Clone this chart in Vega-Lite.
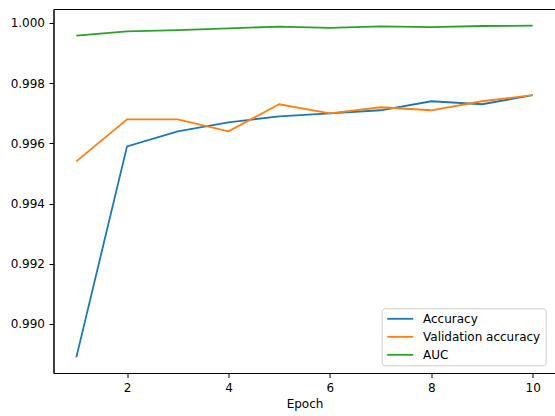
{
  "$schema": "https://vega.github.io/schema/vega-lite/v6.json",
  "autosize": {"type": "none"},
  "padding": {"left": 53.5, "top": 9, "right": 0, "bottom": 43},
  "width": 502,
  "height": 364,
  "background": "white",
  "config": {
    "view": {"stroke": "black", "strokeWidth": 1},
    "font": "DejaVu Sans",
    "axis": {
      "grid": false,
      "domainColor": "black",
      "domainWidth": 1,
      "tickColor": "black",
      "tickWidth": 1,
      "tickSize": 4.5,
      "labelFont": "DejaVu Sans",
      "labelFontSize": 12,
      "labelColor": "black",
      "labelPadding": 4.5,
      "titleFont": "DejaVu Sans",
      "titleFontSize": 12,
      "titleFontWeight": "normal",
      "titleColor": "black"
    }
  },
  "data": {
    "values": [
      {"epoch": 1, "series": "Accuracy", "value": 0.98889},
      {"epoch": 2, "series": "Accuracy", "value": 0.9959},
      {"epoch": 3, "series": "Accuracy", "value": 0.9964},
      {"epoch": 4, "series": "Accuracy", "value": 0.9967},
      {"epoch": 5, "series": "Accuracy", "value": 0.9969},
      {"epoch": 6, "series": "Accuracy", "value": 0.997},
      {"epoch": 7, "series": "Accuracy", "value": 0.9971},
      {"epoch": 8, "series": "Accuracy", "value": 0.9974},
      {"epoch": 9, "series": "Accuracy", "value": 0.9973},
      {"epoch": 10, "series": "Accuracy", "value": 0.9976},
      {"epoch": 1, "series": "Validation accuracy", "value": 0.9954},
      {"epoch": 2, "series": "Validation accuracy", "value": 0.9968},
      {"epoch": 3, "series": "Validation accuracy", "value": 0.9968},
      {"epoch": 4, "series": "Validation accuracy", "value": 0.9964},
      {"epoch": 5, "series": "Validation accuracy", "value": 0.9973},
      {"epoch": 6, "series": "Validation accuracy", "value": 0.997},
      {"epoch": 7, "series": "Validation accuracy", "value": 0.9972},
      {"epoch": 8, "series": "Validation accuracy", "value": 0.9971},
      {"epoch": 9, "series": "Validation accuracy", "value": 0.9974},
      {"epoch": 10, "series": "Validation accuracy", "value": 0.9976},
      {"epoch": 1, "series": "AUC", "value": 0.99958},
      {"epoch": 2, "series": "AUC", "value": 0.99972},
      {"epoch": 3, "series": "AUC", "value": 0.99976},
      {"epoch": 4, "series": "AUC", "value": 0.99982},
      {"epoch": 5, "series": "AUC", "value": 0.99988},
      {"epoch": 6, "series": "AUC", "value": 0.99984},
      {"epoch": 7, "series": "AUC", "value": 0.99989},
      {"epoch": 8, "series": "AUC", "value": 0.99986},
      {"epoch": 9, "series": "AUC", "value": 0.9999},
      {"epoch": 10, "series": "AUC", "value": 0.99991}
    ]
  },
  "mark": {"type": "line", "strokeWidth": 1.8, "clip": true},
  "encoding": {
    "x": {
      "field": "epoch",
      "type": "quantitative",
      "title": "Epoch",
      "scale": {"domain": [0.55, 10.45], "nice": false, "zero": false},
      "axis": {"values": [2, 4, 6, 8, 10], "titlePadding": 5}
    },
    "y": {
      "field": "value",
      "type": "quantitative",
      "title": null,
      "scale": {"domain": [0.98837, 1.000465], "nice": false, "zero": false},
      "axis": {"values": [0.99, 0.992, 0.994, 0.996, 0.998, 1.0], "format": ".3f"}
    },
    "color": {
      "field": "series",
      "type": "nominal",
      "sort": ["Accuracy", "Validation accuracy", "AUC"],
      "scale": {
        "domain": ["Accuracy", "Validation accuracy", "AUC"],
        "range": ["#1f77b4", "#ff7f0e", "#2ca02c"]
      },
      "legend": {
        "title": null,
        "orient": "none",
        "legendX": 328.2,
        "legendY": 299.3,
        "symbolType": "M-1,0H4.2",
        "symbolSize": 100,
        "symbolStrokeWidth": 1.8,
        "labelFont": "DejaVu Sans",
        "labelFontSize": 12,
        "labelColor": "black",
        "labelOffset": 24.8,
        "rowPadding": 6,
        "padding": 4.5,
        "strokeColor": "#cccccc",
        "fillColor": "white",
        "cornerRadius": 3
      }
    }
  }
}
